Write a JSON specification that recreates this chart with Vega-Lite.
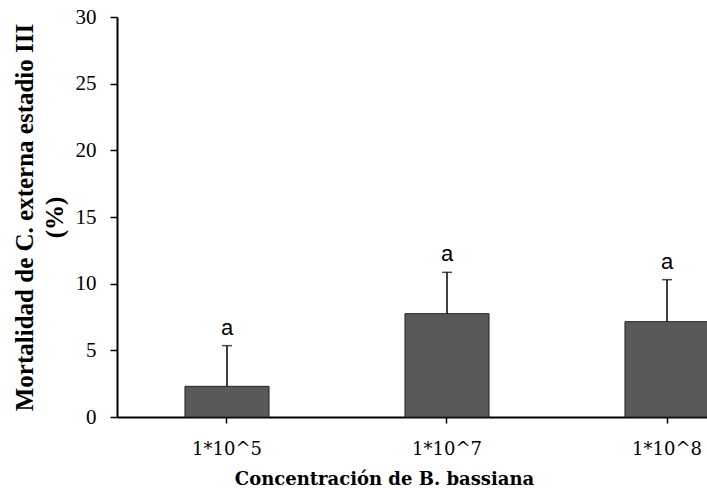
{
  "$schema": "https://vega.github.io/schema/vega-lite/v6.json",
  "autosize": {"type": "none"},
  "padding": {"left": 117, "top": 17, "right": -70, "bottom": 87},
  "width": 660,
  "height": 400,
  "background": "white",
  "config": {"view": {"stroke": null}},
  "data": {
    "values": [
      {"conc": "1*10^5", "mort": 2.3, "upper": 5.35, "letter": "a"},
      {"conc": "1*10^7", "mort": 7.75, "upper": 10.85, "letter": "a"},
      {"conc": "1*10^8", "mort": 7.15, "upper": 10.3, "letter": "a"}
    ]
  },
  "encoding": {
    "x": {
      "field": "conc",
      "type": "nominal",
      "sort": null,
      "scale": {"paddingInner": 0.618, "paddingOuter": 0.309},
      "axis": {
        "title": "Concentración de B. bassiana",
        "titleFont": "DejaVu Serif",
        "titleFontSize": 18,
        "titleFontWeight": "bold",
        "titleColor": "black",
        "titleX": 267,
        "titlePadding": 12,
        "labelAngle": 0,
        "labelFont": "DejaVu Serif",
        "labelFontSize": 18,
        "labelColor": "black",
        "labelPadding": 17,
        "tickSize": 6,
        "tickWidth": 1.5,
        "tickColor": "black",
        "domainColor": "black",
        "domainWidth": 2,
        "grid": false
      }
    }
  },
  "layer": [
    {
      "mark": {"type": "bar", "fill": "#595959", "stroke": "#222222", "strokeWidth": 1},
      "encoding": {
        "y": {
          "field": "mort",
          "type": "quantitative",
          "scale": {"domain": [0, 30]},
          "axis": {
            "title": ["Mortalidad  de C. externa  estadio III", "(%)"],
            "titleFont": "Liberation Serif",
            "titleFontSize": 25,
            "titleFontWeight": "bold",
            "titleColor": "black",
            "titleLineHeight": 30,
            "titlePadding": 8,
            "values": [0, 5, 10, 15, 20, 25, 30],
            "labelFont": "Liberation Serif",
            "labelFontSize": 21,
            "labelColor": "black",
            "labelPadding": 14,
            "tickSize": 7,
            "tickWidth": 1.5,
            "tickColor": "black",
            "domainColor": "black",
            "domainWidth": 2,
            "grid": false
          }
        }
      }
    },
    {
      "mark": {"type": "rule", "color": "black", "strokeWidth": 1.5},
      "encoding": {
        "y": {"field": "mort", "type": "quantitative"},
        "y2": {"field": "upper"}
      }
    },
    {
      "mark": {"type": "tick", "color": "black", "size": 10, "thickness": 1.5},
      "encoding": {
        "y": {"field": "upper", "type": "quantitative"}
      }
    },
    {
      "mark": {"type": "text", "font": "Liberation Sans", "fontSize": 22, "baseline": "bottom", "dy": -6, "color": "black"},
      "encoding": {
        "y": {"field": "upper", "type": "quantitative"},
        "text": {"field": "letter"}
      }
    }
  ]
}
